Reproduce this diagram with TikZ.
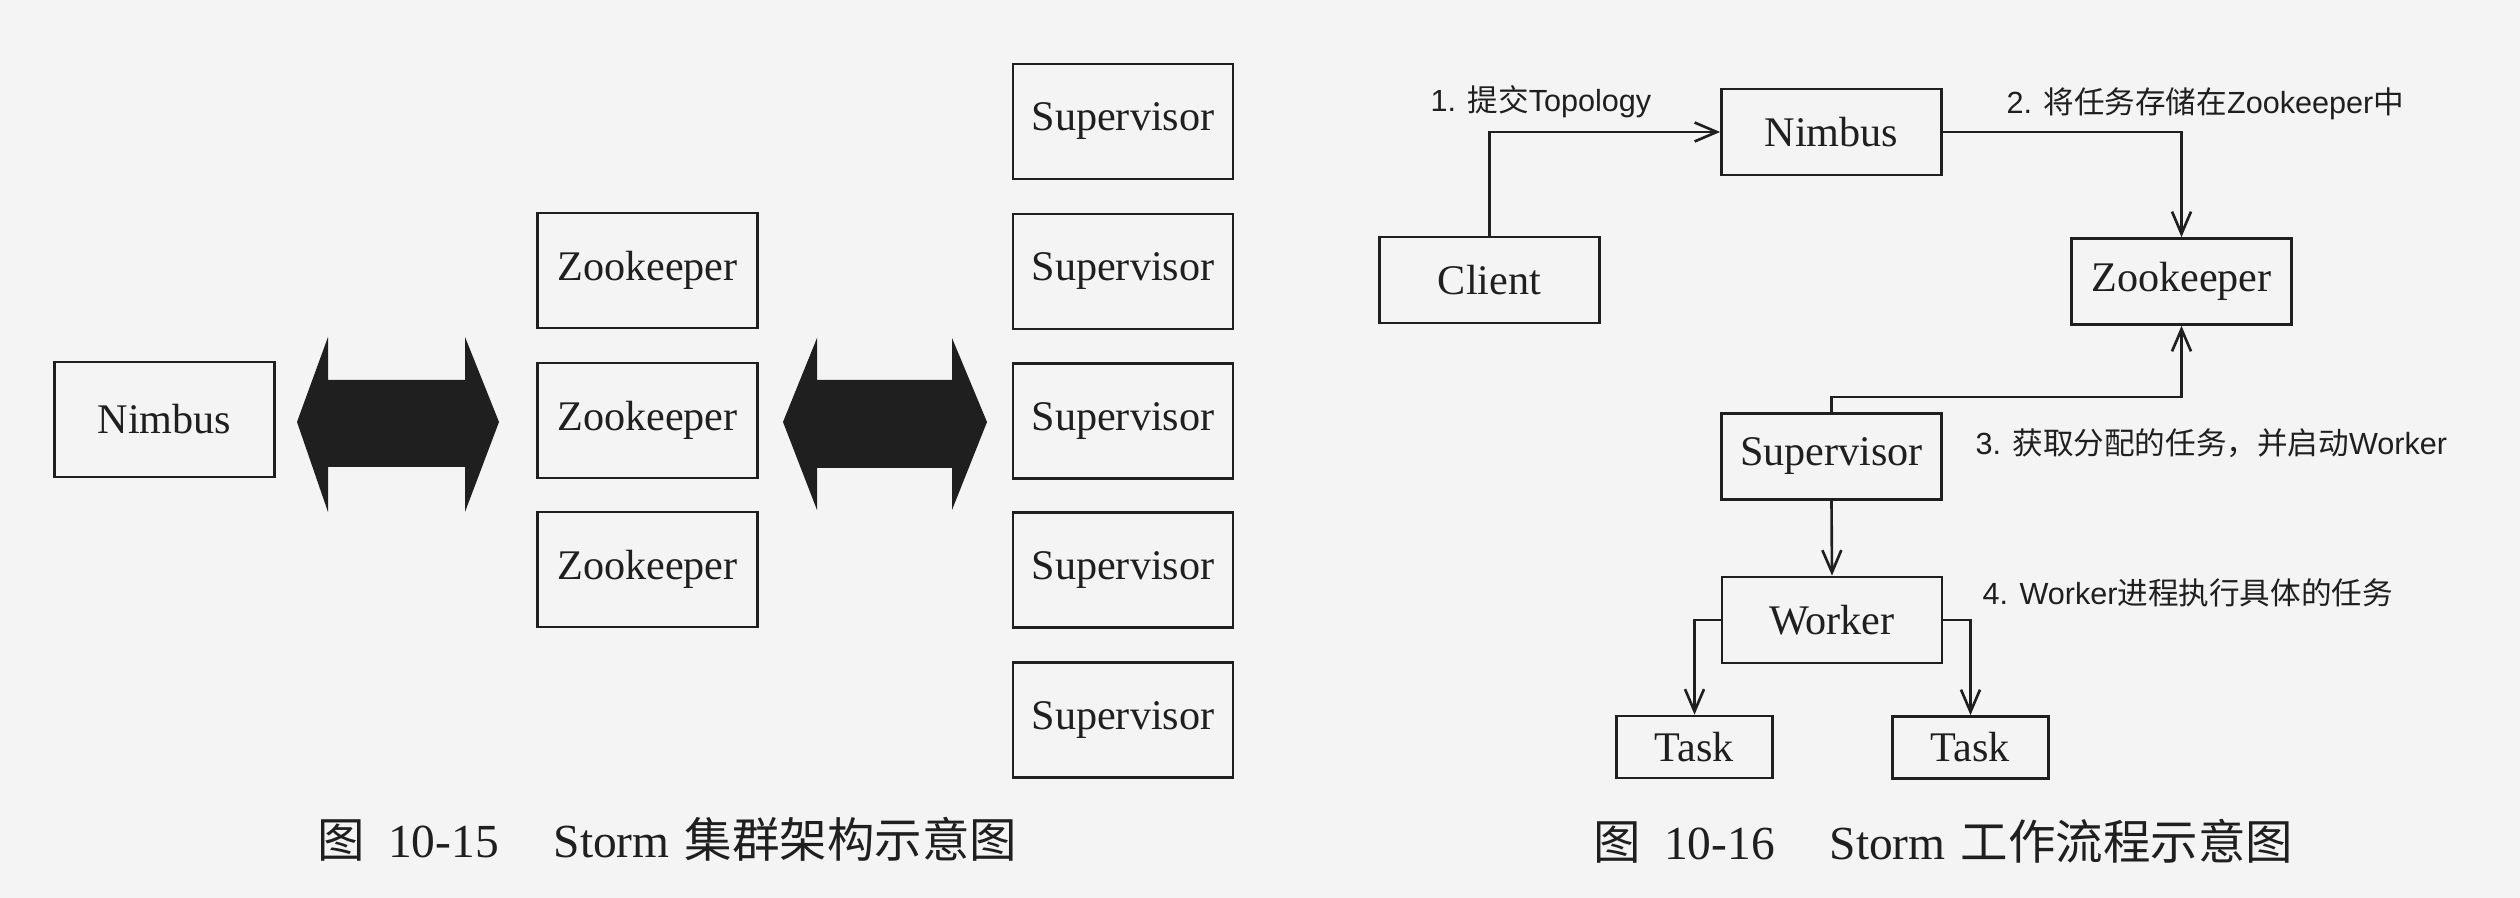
\documentclass[tikz,border=0pt]{standalone}
\usepackage{fontspec}
\setmainfont{Liberation Serif}
\newfontfamily\cjk{Noto Sans CJK SC}
\newfontfamily\lbl{Liberation Sans}
\usetikzlibrary{arrows.meta}
\definecolor{papier}{gray}{0.955}
\definecolor{tinte}{gray}{0.12}

\begin{document}
\begin{tikzpicture}[x=0.01cm, y=-0.01cm,
    box/.style={draw=tinte, line width=0.75pt, minimum width=2.2cm, minimum height=1.15cm,
                inner sep=0pt, text=tinte, font=\fontsize{12}{14}\selectfont},
    flat/.style={box, minimum height=0.86cm},
    klein/.style={box, minimum width=1.56cm, minimum height=0.62cm},
    pfeil/.style={draw=tinte, line width=0.75pt, -{Straight Barb[length=6.3pt, width=5.4pt]}},
    schritt/.style={anchor=base west, inner sep=0pt, text=tinte, font=\lbl\fontsize{8.7}{10}\selectfont},
    titel/.style={anchor=base west, inner sep=0pt, text=tinte, font=\fontsize{13.5}{16}\selectfont}]
    \fill[papier] (0,0) rectangle (2520,898);
    \useasboundingbox (0,0) rectangle (2520,898);

    % Cluster
    \node[box] (nimbusA) at (164.5,419.5) {Nimbus};
    \foreach \y [count=\i] in {270.5,420.5,569.5}
        \node[box] (zk\i) at (647.5,\y) {Zookeeper};
    \foreach \y [count=\i] in {121.5,271.5,421,570,720}
        \node[box] (sup\i) at (1123,\y) {Supervisor};

    % Doppelpfeile
    \fill[tinte] (297,422) -- (328,337) -- (328,380) -- (465,380) -- (465,337) -- (499,422)
                 -- (465,512) -- (465,467) -- (328,467) -- (328,512) -- cycle; % Nimbus - Zookeeper
    \fill[tinte] (783,422) -- (817,338) -- (817,380) -- (952,380) -- (952,338) -- (987,422)
                 -- (952,510) -- (952,468) -- (817,468) -- (817,510) -- cycle; % Zookeeper - Supervisor

    \node[titel] (cap1) at (317,858) {{\cjk 图}\hspace{6.5pt}10-15\hspace{15.6pt}Storm\hspace{4.3pt}{\cjk 集群架构示意图}};

    % Ablauf
    \node[flat] (client) at (1489.5,280) {Client};
    \node[flat] (nimbus) at (1831.5,132) {Nimbus};
    \node[flat] (zk) at (2181.5,281.5) {Zookeeper};
    \node[flat] (sup) at (1831.5,456.5) {Supervisor};
    \node[flat] (worker) at (1832,620) {Worker};
    \node[klein] (task1) at (1694.5,747) {Task};
    \node[klein] (task2) at (1970.5,747.5) {Task};

    \coordinate (knick) at (1831.5,397);
    \draw[pfeil] (client.north) |- (nimbus.west);
    \draw[pfeil] (nimbus.east) -| (zk.north);
    \draw[pfeil] (sup.north) -- (knick) -| (zk.south);
    \draw[pfeil] (sup.south) -- (worker.north);
    \draw[pfeil] (worker.west) -| (task1.north);
    \draw[pfeil] (worker.east) -| (task2.north);

    % Schritte
    \node[schritt] (s1) at (1430,112) {1. {\cjk 提交}Topology};
    \node[schritt] (s2) at (2006,114) {2. {\cjk 将任务存储在}Zookeeper{\cjk 中}};
    \node[schritt] (s3) at (1975,455) {3. {\cjk 获取分配的任务，并启动}Worker};
    \node[schritt] (s4) at (1982,605) {4. Worker{\cjk 进程执行具体的任务}};

    \node[titel] (cap2) at (1593,860) {{\cjk 图}\hspace{6.5pt}10-16\hspace{15.6pt}Storm\hspace{4.3pt}{\cjk 工作流程示意图}};
\end{tikzpicture}
\end{document}
